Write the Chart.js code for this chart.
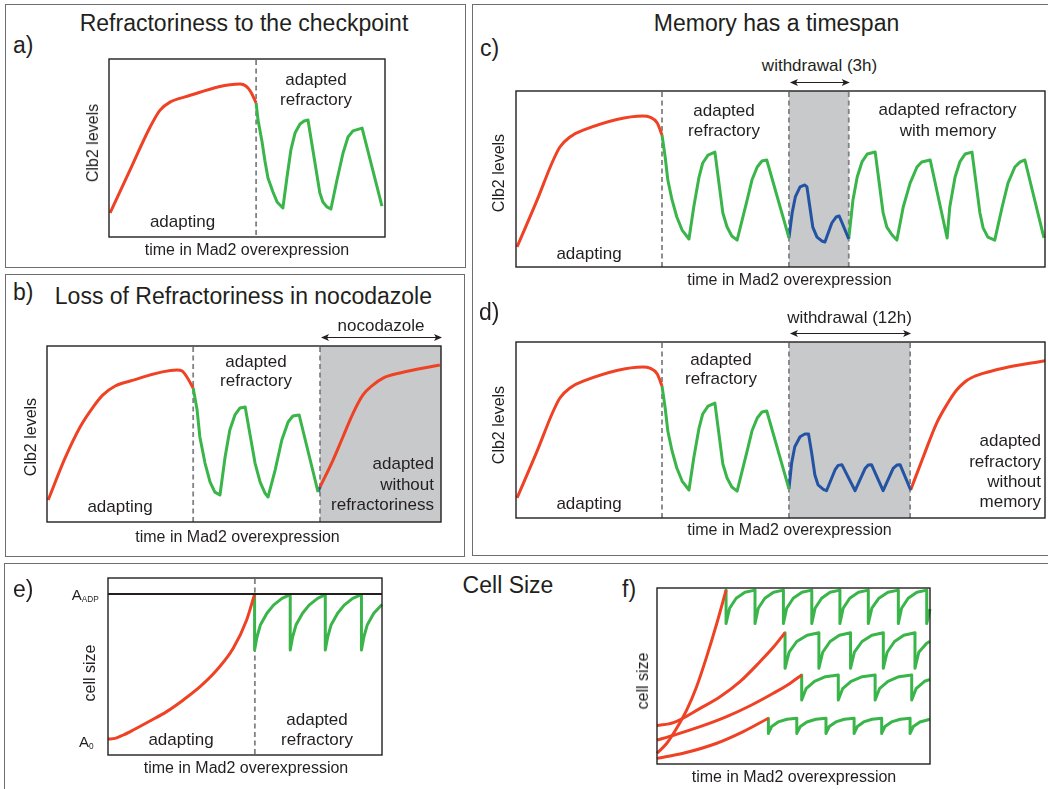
<!DOCTYPE html>
<html>
<head>
<meta charset="utf-8">
<script src="https://cdn.jsdelivr.net/npm/chart.js@4.4.1/dist/chart.umd.min.js"></script>
<style>
  html, body { margin: 0; padding: 0; background: #fff; }
  #fig { position: relative; width: 1048px; height: 789px; overflow: hidden;
         font-family: "Liberation Sans", Arial, Helvetica, sans-serif; color: #231f20; }
  .box { position: absolute; border: 1.5px solid #6d6e71; box-sizing: border-box; }
  .t { position: absolute; white-space: nowrap; line-height: 1; z-index: 2; }
  .t sub { font-size: 0.55em; vertical-align: -0.25em; }
  canvas { position: absolute; z-index: 1; }
</style>
</head>
<body>
<div id="fig"></div>
<script>
// Schematic time courses: x = time in Mad2 overexpression (0-100), y = level (0-100)

const RED = '#ef4123';
const GREEN = '#3ab54a';
const BLUE = '#2353a3';
const INK = '#231f20';

// a) Refractoriness to the checkpoint
const aAdapting = [[0.4,13.5],[7.6,37.6],[14.9,61.8],[18.5,71.3],[22.1,75.8],[27.5,78.7],[47.5,86.0],[49.6,84.8],[51.4,81.5],[53.3,75.3]];
const aRefractory = [[53.3,75.3],[54.0,65.7],[55.4,53.9],[56.5,42.7],[57.6,33.1],[59.4,25.3],[60.9,19.7],[63.0,16.3],
  [64.5,33.7],[65.9,48.9],[67.4,58.4],[69.2,63.5],[70.7,65.2],[72.1,65.7],
  [76.4,24.7],[77.5,19.7],[79.0,16.9],[80.4,15.7],
  [82.6,32.0],[84.8,47.2],[86.6,56.2],[88.4,59.6],[91.7,61.2],[98.9,17.4]];
const aDashes = [53.3];

// b) Loss of refractoriness in nocodazole
const bAdapting = [[0.3,12.5],[4.6,36.4],[8.4,54.0],[11.7,65.3],[14.2,72.2],[17.3,77.3],[21.1,80.1],[33.0,86.4],[34.3,85.8],[35.5,82.4],[37.1,76.1]];
const bRefractory = [[37.1,76.1],[38.1,63.6],[38.8,48.3],[40.1,33.5],[41.4,22.7],[42.6,17.0],[43.9,15.3],
  [45.2,36.9],[46.4,52.3],[47.7,60.8],[49.0,64.8],[50.3,65.3],
  [52.8,33.5],[54.1,22.7],[55.3,16.5],[56.1,14.2],
  [57.9,29.5],[59.6,46.6],[61.2,56.8],[62.4,60.2],[64.0,60.8],[68.8,17.0]];
const bWithdrawal = [[68.8,17.0],[69.3,19.9]];
const bNocodazole = [[69.3,19.9],[72.6,35.2],[75.1,48.3],[77.7,61.9],[80.2,72.2],[82.7,77.8],[85.3,81.8],[89.6,84.7],[99.7,89.2]];
const bDashes = [37.1, 69.3];
const bBand = [69.3, 100];

// c) and d) share the history before withdrawal
const cdAdapting = [[0.2,11.4],[4.0,38.1],[6.8,59.1],[8.3,68.2],[10.2,73.9],[12.7,77.8],[24.0,85.8],[25.3,85.2],[26.7,81.8],[27.6,75.0]];
const cdRefractory = [[27.6,75.0],[28.2,62.5],[28.7,49.4],[29.5,38.1],[30.4,28.4],[31.4,21.0],[32.7,15.9],
  [33.6,34.1],[34.6,51.1],[35.3,59.1],[36.3,63.6],[37.6,65.3],
  [39.1,30.7],[39.9,22.7],[40.8,17.6],[41.8,15.3],
  [43.7,38.1],[44.6,49.4],[45.6,56.8],[46.5,60.2],[47.4,60.8],[51.6,16.5]];

// c) Memory has a timespan: short (3h) withdrawal
const cWithdrawal = [[51.6,16.5],[52.2,30.7],[52.8,39.8],[53.7,45.5],[54.6,46.6],[55.0,45.5],[56.1,22.7],[56.9,17.0],[57.8,14.8],[58.4,14.2],
  [59.7,25.0],[60.5,28.4],[61.1,29.0],[62.9,16.0]];
const cMemory = [[62.9,16.0],[63.7,38.1],[64.5,51.1],[65.4,59.7],[66.4,64.2],[67.9,65.3],
  [69.4,30.7],[70.1,22.7],[71.1,18.2],[72.0,15.3],
  [73.2,34.1],[74.5,47.7],[75.8,56.8],[76.7,59.7],[78.3,60.8],[81.5,16.5],
  [82.0,34.1],[83.0,51.1],[83.9,59.7],[84.9,64.2],[86.2,65.3],
  [87.7,30.7],[88.3,22.2],[89.2,17.0],[90.5,15.3],
  [91.9,34.1],[93.0,47.7],[94.3,56.8],[95.3,59.7],[96.2,60.8],[99.8,16.5]];
const cDashes = [27.6, 51.6, 62.9];
const cBand = [51.6, 62.9];

// d) long (12h) withdrawal
const dWithdrawal = [[51.6,16.5],[52.1,31.1],[52.7,40.5],[53.7,46.2],[54.6,47.7],[55.3,47.7],[55.9,36.8],[56.5,24.4],[57.1,18.8],[58.1,16.3],[58.7,15.5],
  [60.3,27.3],[60.9,29.9],[61.6,30.3],[64.1,15.5],
  [66.0,28.2],[66.6,30.1],[67.2,30.3],[69.4,15.5],
  [71.3,28.2],[72.0,30.1],[72.6,30.3],[74.6,15.9]];
const dReadapting = [[74.6,15.9],[77.0,34.8],[79.5,53.8],[81.4,64.2],[83.3,72.7],[84.9,77.4],[86.1,79.7],[88.3,82.2],[92.1,85.1],[100,89.4]];
const dDashes = [27.6, 51.6, 74.5];
const dBand = [51.6, 74.5];

// e) Cell size, from A0 up to A_ADP
const eThreshold = [[0,91.0],[100,91.0]];
const eAdapting = [[0,9.0],[2.6,9.4],[5.6,11.3],[9.2,14.1],[15.3,19.2],[21.4,24.5],[27.5,31.1],[33.6,38.6],[39.7,48.0],[45.7,60.3],[50.6,76.3],[53.5,90.8]];
const eRefractory = [[53.5,91.0],[53.5,59.3],[54.4,66.8],[55.6,73.4],[58.0,80.1],[60.4,84.7],[63.5,88.5],[66.5,90.6],
  [66.5,59.3],[67.4,66.8],[68.6,73.4],[71.0,80.1],[73.4,84.7],[76.5,88.5],[79.3,90.6],
  [79.3,59.3],[80.2,66.8],[81.4,73.4],[83.8,80.1],[86.2,84.7],[89.3,88.5],[92.5,90.6],
  [92.5,59.3],[93.4,66.8],[94.6,73.4],[97.0,80.1],[100,85.0]];
const eDashes = [53.6];

// f) Cell size for four adaptation speeds
const fAdapting1 = [[0,6.1],[3.6,11.8],[7.2,20.3],[10.9,30.7],[14.5,43.9],[18.2,61.0],[21.9,79.9],[25.3,98.8]];
const fAdapting2 = [[0,21.8],[6.0,23.5],[15.8,31.6],[23.1,38.2],[30.4,46.8],[37.7,58.1],[42.6,66.3],[46.9,74.6]];
const fAdapting3 = [[0,13.6],[6.0,16.3],[15.8,21.2],[25.5,26.9],[34.1,33.1],[42.6,40.2],[48.7,45.8],[53.0,50.6]];
const fAdapting4 = [[0,3.2],[9.6,6.1],[21.9,11.8],[31.6,18.4],[40.8,26.0]];
const fRefractory1 = [[25.3,98.8],[25.3,79.9],[26.6,88.5],[29.0,94.2],[32.2,97.6],[35.9,98.8],
  [35.9,79.9],[37.1,88.5],[39.5,94.2],[42.7,97.6],[46.3,98.8],
  [46.3,79.9],[47.5,88.5],[49.9,94.2],[53.1,97.6],[56.7,98.8],
  [56.7,79.9],[57.9,88.5],[60.3,94.2],[63.4,97.6],[67.0,98.8],
  [67.0,79.9],[68.2,88.5],[70.6,94.2],[73.8,97.6],[77.4,98.8],
  [77.4,79.9],[78.7,88.5],[81.3,94.2],[84.6,97.6],[88.4,98.8],
  [88.4,79.9],[89.6,88.5],[92.0,94.2],[95.2,97.6],[98.8,98.8],
  [98.8,79.9],[100,88.0]];
const fRefractory2 = [[46.9,74.6],[46.9,54.4],[48.4,63.5],[51.2,69.6],[55.0,73.2],[59.3,74.6],
  [59.3,54.4],[60.7,63.5],[63.4,69.6],[66.8,73.2],[70.9,74.6],
  [70.9,54.4],[72.3,63.5],[75.1,69.6],[78.7,73.2],[82.9,74.6],
  [82.9,54.4],[84.3,63.5],[87.0,69.6],[90.4,73.2],[94.5,74.6],
  [94.5,54.4],[95.9,63.5],[98.7,68.5],[100,69.8]];
const fRefractory3 = [[53.0,50.6],[53.0,36.4],[54.6,42.8],[57.7,47.0],[61.7,49.6],[66.4,50.6],
  [66.4,36.4],[68.0,42.8],[71.1,47.0],[75.2,49.6],[79.9,50.6],
  [79.9,36.4],[81.5,42.8],[84.6,47.0],[88.6,49.6],[93.3,50.6],
  [93.3,36.4],[94.9,42.8],[98.0,47.0],[100,48.0]];
const fRefractory4 = [[40.8,26.0],[40.8,17.4],[42.0,21.3],[44.4,23.9],[47.6,25.4],[51.2,26.0],
  [51.2,17.4],[52.5,21.3],[54.9,23.9],[58.2,25.4],[61.9,26.0],
  [61.9,17.4],[63.1,21.3],[65.5,23.9],[68.6,25.4],[72.2,26.0],
  [72.2,17.4],[73.4,21.3],[75.7,23.9],[78.8,25.4],[82.3,26.0],
  [82.3,17.4],[83.5,21.3],[85.9,23.9],[89.1,25.4],[92.7,26.0],
  [92.7,17.4],[93.9,21.3],[96.3,23.9],[100,25.4]];

const fig = document.getElementById('fig');

function addBox(left, top, width, height) {
  const d = document.createElement('div');
  d.className = 'box';
  Object.assign(d.style, { left: left + 'px', top: top + 'px', width: width + 'px', height: height + 'px' });
  fig.appendChild(d);
}

// text placed by its baseline
function addText(html, x, baseline, size, align) {
  const d = document.createElement('div');
  d.className = 't';
  d.innerHTML = html;
  d.style.fontSize = size + 'px';
  d.style.left = x + 'px';
  d.style.top = (baseline - 0.8465 * size) + 'px';
  if (align === 'center') d.style.transform = 'translateX(-50%)';
  if (align === 'right') d.style.transform = 'translateX(-100%)';
  fig.appendChild(d);
}

// vertical axis title, centred on (cx, cy)
function addVText(str, cx, cy, size) {
  const d = document.createElement('div');
  d.className = 't';
  d.textContent = str;
  d.style.fontSize = size + 'px';
  d.style.left = cx + 'px';
  d.style.top = cy + 'px';
  d.style.transform = 'translate(-50%,-50%) rotate(-90deg)';
  fig.appendChild(d);
}

// shaded intervals, dashed phase boundaries, plot frame and span arrows
const figureMarks = {
  id: 'figureMarks',
  beforeDatasetsDraw(chart, args, opts) {
    const { ctx, chartArea: a, scales: { x } } = chart;
    ctx.save();
    (opts.bands || []).forEach(([x0, x1]) => {
      const p0 = x.getPixelForValue(x0), p1 = x.getPixelForValue(x1);
      ctx.fillStyle = '#c8c9cb';
      ctx.fillRect(p0, a.top, p1 - p0, a.bottom - a.top);
    });
    ctx.strokeStyle = '#808285';
    ctx.lineWidth = 1.8;
    ctx.setLineDash([5, 3.5]);
    (opts.dashes || []).forEach(v => {
      const px = x.getPixelForValue(v);
      ctx.beginPath();
      ctx.moveTo(px, a.top + 1);
      ctx.lineTo(px, a.bottom);
      ctx.stroke();
    });
    ctx.restore();
  },
  afterDatasetsDraw(chart, args, opts) {
    const { ctx, chartArea: a, scales: { x } } = chart;
    ctx.save();
    ctx.strokeStyle = INK;
    ctx.lineWidth = 1.4;
    ctx.strokeRect(a.left, a.top, a.right - a.left, a.bottom - a.top);
    (opts.arrows || []).forEach(([x0, x1]) => {
      const p0 = x.getPixelForValue(x0) + 1, p1 = x.getPixelForValue(x1) + 1, y = a.top - 8.5;
      ctx.lineWidth = 1.2;
      ctx.beginPath(); ctx.moveTo(p0 + 3, y); ctx.lineTo(p1 - 3, y); ctx.stroke();
      ctx.fillStyle = INK;
      ctx.beginPath(); ctx.moveTo(p0, y); ctx.lineTo(p0 + 8, y - 3.5); ctx.lineTo(p0 + 6, y); ctx.lineTo(p0 + 8, y + 3.5); ctx.closePath(); ctx.fill();
      ctx.beginPath(); ctx.moveTo(p1, y); ctx.lineTo(p1 - 8, y - 3.5); ctx.lineTo(p1 - 6, y); ctx.lineTo(p1 - 8, y + 3.5); ctx.closePath(); ctx.fill();
    });
    ctx.restore();
  }
};

// one chart per panel; rect = plot area [left, top, right, bottom] on the page
function panel(rect, series, marks) {
  const pad = 16;
  const w = rect[2] - rect[0] + 2 * pad, h = rect[3] - rect[1] + 2 * pad;
  const cv = document.createElement('canvas');
  cv.width = w; cv.height = h;
  Object.assign(cv.style, { left: (rect[0] - pad) + 'px', top: (rect[1] - pad) + 'px', width: w + 'px', height: h + 'px' });
  fig.appendChild(cv);
  return new Chart(cv, {
    type: 'line',
    data: {
      datasets: series.map(s => ({
        data: s.points.map(p => ({ x: p[0], y: p[1] })),
        borderColor: s.color,
        borderWidth: s.width || 3,
        pointRadius: 0,
        tension: 0,
        cubicInterpolationMode: s.smooth ? 'monotone' : 'default',
        borderJoinStyle: 'round',
        clip: false,
        fill: false
      }))
    },
    options: {
      responsive: false, animation: false, devicePixelRatio: 1, events: [],
      layout: { padding: pad },
      scales: {
        x: { type: 'linear', display: false, min: 0, max: 100 },
        y: { type: 'linear', display: false, min: 0, max: 100 }
      },
      plugins: { legend: { display: false }, tooltip: { enabled: false }, figureMarks: marks }
    },
    plugins: [figureMarks]
  });
}

// panel frames
addBox(5, 4, 461, 264);
addBox(5, 274, 460, 283);
addBox(472, 4, 577, 552);
addBox(4, 563, 1050, 240);

panel([109, 59, 385, 237], [
  { points: aAdapting, color: RED, smooth: true },
  { points: aRefractory, color: GREEN }
], { dashes: aDashes });

panel([47, 346, 441, 522], [
  { points: bAdapting, color: RED, smooth: true },
  { points: bRefractory, color: GREEN },
  { points: bWithdrawal, color: BLUE },
  { points: bNocodazole, color: RED, smooth: true }
], { dashes: bDashes, bands: [bBand], arrows: [bBand] });

panel([516, 91, 1045, 267], [
  { points: cdAdapting, color: RED, smooth: true },
  { points: cdRefractory, color: GREEN },
  { points: cWithdrawal, color: BLUE },
  { points: cMemory, color: GREEN }
], { dashes: cDashes, bands: [cBand], arrows: [cBand] });

panel([516, 342, 1045, 518], [
  { points: cdAdapting, color: RED, smooth: true },
  { points: cdRefractory, color: GREEN },
  { points: dWithdrawal, color: BLUE },
  { points: dReadapting, color: RED, smooth: true }
], { dashes: dDashes, bands: [dBand], arrows: [dBand] });

panel([108, 578, 382, 755], [
  { points: eThreshold, color: INK, width: 2 },
  { points: eAdapting, color: RED, smooth: true },
  { points: eRefractory, color: GREEN }
], { dashes: eDashes });

panel([657, 588, 930, 764], [
  { points: fAdapting1, color: RED, smooth: true },
  { points: fAdapting2, color: RED, smooth: true },
  { points: fAdapting3, color: RED, smooth: true },
  { points: fAdapting4, color: RED, smooth: true },
  { points: fRefractory1, color: GREEN },
  { points: fRefractory2, color: GREEN },
  { points: fRefractory3, color: GREEN },
  { points: fRefractory4, color: GREEN }
], {});

// a)
addText('Refractoriness to the checkpoint', 244, 31, 23, 'center');
addText('a)', 13, 53.5, 23, 'left');
addText('adapted', 316, 85.5, 17, 'center');
addText('refractory', 316, 105.5, 17, 'center');
addText('adapting', 182.5, 227.5, 17, 'center');
addText('time in Mad2 overexpression', 247, 255.5, 16, 'center');
addVText('Clb2 levels', 93.3, 143, 16);

// b)
addText('b)', 13, 300.5, 23, 'left');
addText('Loss of Refractoriness in nocodazole', 243.4, 304.5, 23, 'center');
addText('nocodazole', 381, 331.5, 17, 'center');
addText('adapted', 256, 367, 17, 'center');
addText('refractory', 256, 386.5, 17, 'center');
addText('adapting', 120, 512.5, 17, 'center');
addText('adapted', 434, 469, 17, 'right');
addText('without', 434, 490, 17, 'right');
addText('refractoriness', 434, 510.5, 17, 'right');
addText('time in Mad2 overexpression', 237.5, 542.5, 16, 'center');
addVText('Clb2 levels', 30.8, 436.7, 16);

// c)
addText('Memory has a timespan', 776.5, 31, 23, 'center');
addText('c)', 480, 56, 23, 'left');
addText('withdrawal (3h)', 819.5, 71, 17, 'center');
addText('adapted', 724, 116.5, 17, 'center');
addText('refractory', 724, 136.5, 17, 'center');
addText('adapting', 589, 259.5, 17, 'center');
addText('adapted refractory', 947.5, 115.5, 17, 'center');
addText('with memory', 948, 136, 17, 'center');
addText('time in Mad2 overexpression', 789.5, 285.5, 16, 'center');
addVText('Clb2 levels', 499, 173.3, 16);

// d)
addText('d)', 479, 320.5, 23, 'left');
addText('withdrawal (12h)', 849.5, 323.5, 17, 'center');
addText('adapted', 721, 365, 17, 'center');
addText('refractory', 721, 384.5, 17, 'center');
addText('adapting', 589, 509.5, 17, 'center');
addText('adapted', 1041, 446.5, 17, 'right');
addText('refractory', 1041, 467, 17, 'right');
addText('without', 1041, 487.5, 17, 'right');
addText('memory', 1041, 507.5, 17, 'right');
addText('time in Mad2 overexpression', 789.5, 536, 16, 'center');
addVText('Clb2 levels', 499, 425, 16);

// e)
addText('e)', 13, 597, 23, 'left');
addText('Cell Size', 508, 593, 23, 'center');
addText('A<sub>ADP</sub>', 71.7, 599.3, 15, 'left');
addText('A<sub>0</sub>', 79, 747, 15, 'left');
addText('adapting', 181, 745.5, 17, 'center');
addText('adapted', 317, 725.5, 17, 'center');
addText('refractory', 317, 745, 17, 'center');
addText('time in Mad2 overexpression', 246, 773.3, 16, 'center');
addVText('cell size', 90, 672.5, 16);

// f)
addText('f)', 622, 597, 23, 'left');
addText('time in Mad2 overexpression', 794, 782.7, 16, 'center');
addVText('cell size', 643, 680.8, 16);
</script>
</body>
</html>
